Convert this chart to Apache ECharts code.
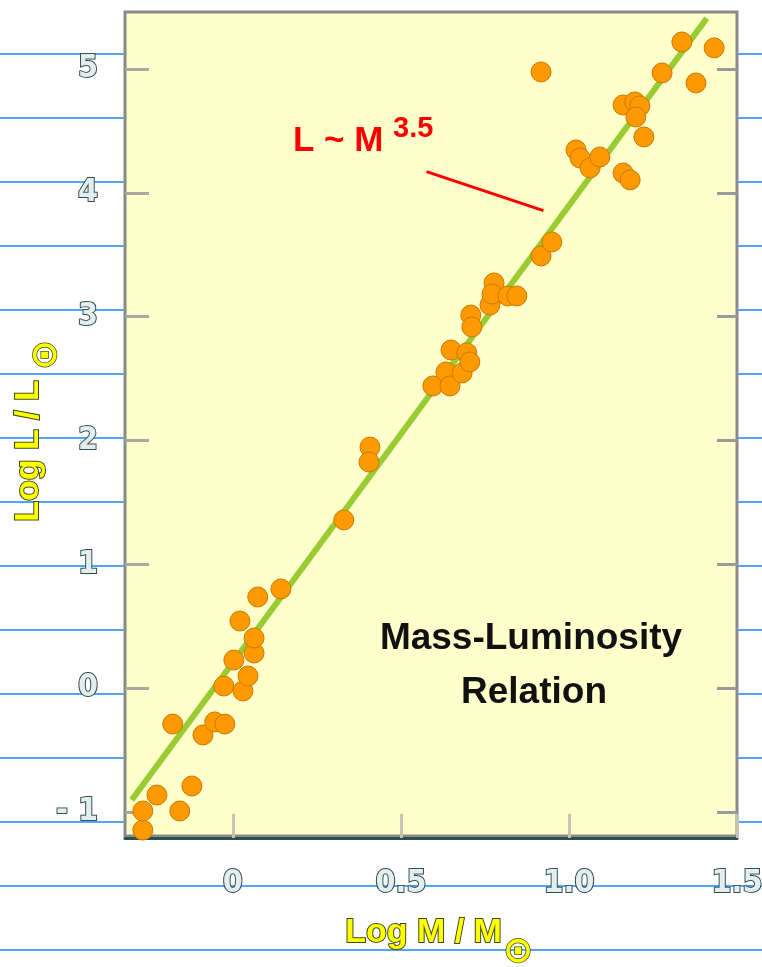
<!DOCTYPE html>
<html>
<head>
<meta charset="utf-8">
<script src="https://cdn.jsdelivr.net/npm/echarts@6/dist/echarts.min.js"></script>
<style>
  html, body { margin: 0; padding: 0; background: #ffffff; }
  #chart {
    width: 762px; height: 967px;
    background: repeating-linear-gradient(to bottom,
      rgba(255,255,255,0) 0px, rgba(255,255,255,0) 53px,
      #4da6ff 53px, #4da6ff 55px,
      rgba(255,255,255,0) 55px, rgba(255,255,255,0) 64px);
  }
</style>
</head>
<body>
<div id="chart"></div>
<script>
// ---- data ----
const starLogMass = [
  -0.268, -0.268, -0.226, -0.158, -0.122, -0.179, -0.089, -0.054, -0.024, -0.027,
  0.030, 0.045, 0.003, 0.063, 0.063, 0.021, 0.074, 0.143, 0.330, 0.408,
  0.405, 0.595, 0.634, 0.646, 0.649, 0.682, 0.696, 0.705, 0.708, 0.711,
  0.765, 0.777, 0.771, 0.818, 0.845, 0.917, 0.949, 0.917, 1.021, 1.033,
  1.063, 1.092, 1.161, 1.182, 1.161, 1.196, 1.211, 1.199, 1.223, 1.277,
  1.336, 1.378, 1.432
];
const starLogLum = [
  -1.146, -0.992, -0.863, -0.992, -0.790, -0.290, -0.378, -0.273, -0.290, 0.017,
  -0.023, 0.098, 0.227, 0.284, 0.405, 0.542, 0.736, 0.801, 1.358, 1.947,
  1.826, 2.440, 2.553, 2.440, 2.731, 2.545, 2.707, 2.634, 3.013, 2.917,
  3.094, 3.272, 3.183, 3.167, 3.167, 3.490, 3.603, 4.976, 4.346, 4.281,
  4.201, 4.289, 4.160, 4.104, 4.709, 4.734, 4.701, 4.612, 4.451, 4.968,
  5.218, 4.887, 5.170
];
const fitLineMass = [-0.301, 1.410];
const fitLineLum = [-0.903, 5.409];
const pointerMass = [0.576, 0.924];
const pointerLum = [4.171, 3.856];
const xTickValues = [0, 0.5, 1, 1.5];
const xTickLabels = ['0', '0.5', '1.0', '1.5'];
const yTickValues = [-1, 0, 1, 2, 3, 4, 5];
const yTickLabels = ['- 1', '0', '1', '2', '3', '4', '5'];

// ---- build ----
const zip = (a, b) => a.map((v, i) => [v, b[i]]);
const labelFont = "'Liberation Sans Narrow', 'DejaVu Sans Condensed', 'Liberation Sans', sans-serif";
const titleFont = "'Liberation Sans', Arial, sans-serif";

const chart = echarts.init(document.getElementById('chart'), null, { renderer: 'canvas' });

const tickLabelStyle = {
  fontFamily: labelFont, fontSize: 32, fontWeight: 'bold',
  color: '#e4eeee', textBorderColor: '#2f4f4f', textBorderWidth: 2
};

chart.setOption({
  backgroundColor: 'transparent',
  animation: false,
  grid: {
    show: true, left: 125, top: 12, width: 612, height: 824,
    backgroundColor: '#ffffcc', borderColor: '#8a8a8a', borderWidth: 3,
    containLabel: false, outerBoundsMode: 'none'
  },
  xAxis: {
    type: 'value', min: -0.321, max: 1.5, offset: 2,
    axisLine: { show: true, onZero: false, lineStyle: { color: '#2f4f4f', width: 3 } },
    axisTick: { show: true, inside: true, length: 24, customValues: xTickValues,
      lineStyle: { color: '#c4c4b0', width: 3 } },
    axisLabel: Object.assign({ margin: 30, customValues: xTickValues,
      formatter: v => xTickLabels[xTickValues.findIndex(t => Math.abs(t - v) < 1e-6)] }, tickLabelStyle),
    splitLine: { show: false }
  },
  yAxis: [{
    type: 'value', min: -1.194, max: 5.460, position: 'left',
    axisLine: { show: false, onZero: false },
    axisTick: { show: true, inside: true, length: 24, customValues: yTickValues,
      lineStyle: { color: '#a8a8a0', width: 3 } },
    axisLabel: Object.assign({ margin: 27, customValues: yTickValues,
      formatter: v => yTickLabels[yTickValues.findIndex(t => Math.abs(t - v) < 1e-6)] }, tickLabelStyle),
    splitLine: { show: false }
  }, {
    type: 'value', min: -1.194, max: 5.460, position: 'right',
    axisLine: { show: false, onZero: false },
    axisTick: { show: true, inside: true, length: 20, customValues: yTickValues,
      lineStyle: { color: '#9a9a9a', width: 3 } },
    axisLabel: { show: false },
    splitLine: { show: false }
  }],
  series: [
    {
      type: 'line', data: zip(fitLineMass, fitLineLum), showSymbol: false, z: 2,
      lineStyle: { color: '#99cc33', width: 6 }, silent: true
    },
    {
      type: 'line', data: zip(pointerMass, pointerLum), showSymbol: false, z: 2,
      lineStyle: { color: '#ff0000', width: 3 }, silent: true
    },
    {
      type: 'scatter', data: zip(starLogMass, starLogLum), symbolSize: 20, z: 3,
      itemStyle: { color: '#ff9900', borderColor: '#c87a00', borderWidth: 1, opacity: 1 }
    }
  ],
  graphic: [
    { type: 'text', x: 293, y: 141.5, z: 10,
      style: { text: 'L ~ M', font: "bold 35px " + titleFont, fill: '#ff0000',
        align: 'left', textAlign: 'left', verticalAlign: 'middle', textVerticalAlign: 'middle' } },
    { type: 'text', x: 393, y: 129, z: 10,
      style: { text: '3.5', font: "bold 29px " + titleFont, fill: '#ff0000',
        align: 'left', textAlign: 'left', verticalAlign: 'middle', textVerticalAlign: 'middle' } },
    { type: 'text', x: 531, y: 639, z: 10,
      style: { text: 'Mass-Luminosity', font: "bold 37px " + titleFont, fill: '#111111',
        align: 'center', textAlign: 'center', verticalAlign: 'middle', textVerticalAlign: 'middle' } },
    { type: 'text', x: 534, y: 693, z: 10,
      style: { text: 'Relation', font: "bold 37px " + titleFont, fill: '#111111',
        align: 'center', textAlign: 'center', verticalAlign: 'middle', textVerticalAlign: 'middle' } },
    { type: 'text', x: 423.5, y: 932.5, z: 10,
      style: { text: 'Log M / M', font: "bold 34px " + titleFont, fill: '#ffff00',
        stroke: '#3d4a1a', lineWidth: 2,
        align: 'center', textAlign: 'center', verticalAlign: 'middle', textVerticalAlign: 'middle' } },
    { type: 'text', x: 518, y: 953, z: 10,
      style: { text: '⊙', font: "bold 36px 'DejaVu Sans', sans-serif", fill: '#ffff00',
        stroke: '#3d4a1a', lineWidth: 1.5,
        align: 'center', textAlign: 'center', verticalAlign: 'middle', textVerticalAlign: 'middle' } },
    { type: 'text', x: 29, y: 451, rotation: Math.PI / 2, z: 10,
      style: { text: 'Log L / L', font: "bold 34px " + titleFont, fill: '#ffff00',
        stroke: '#3d4a1a', lineWidth: 2,
        align: 'center', textAlign: 'center', verticalAlign: 'middle', textVerticalAlign: 'middle' } },
    { type: 'text', x: 47, y: 355, rotation: Math.PI / 2, z: 10,
      style: { text: '⊙', font: "bold 36px 'DejaVu Sans', sans-serif", fill: '#ffff00',
        stroke: '#3d4a1a', lineWidth: 1.5,
        align: 'center', textAlign: 'center', verticalAlign: 'middle', textVerticalAlign: 'middle' } }
  ]
});
</script>
</body>
</html>
